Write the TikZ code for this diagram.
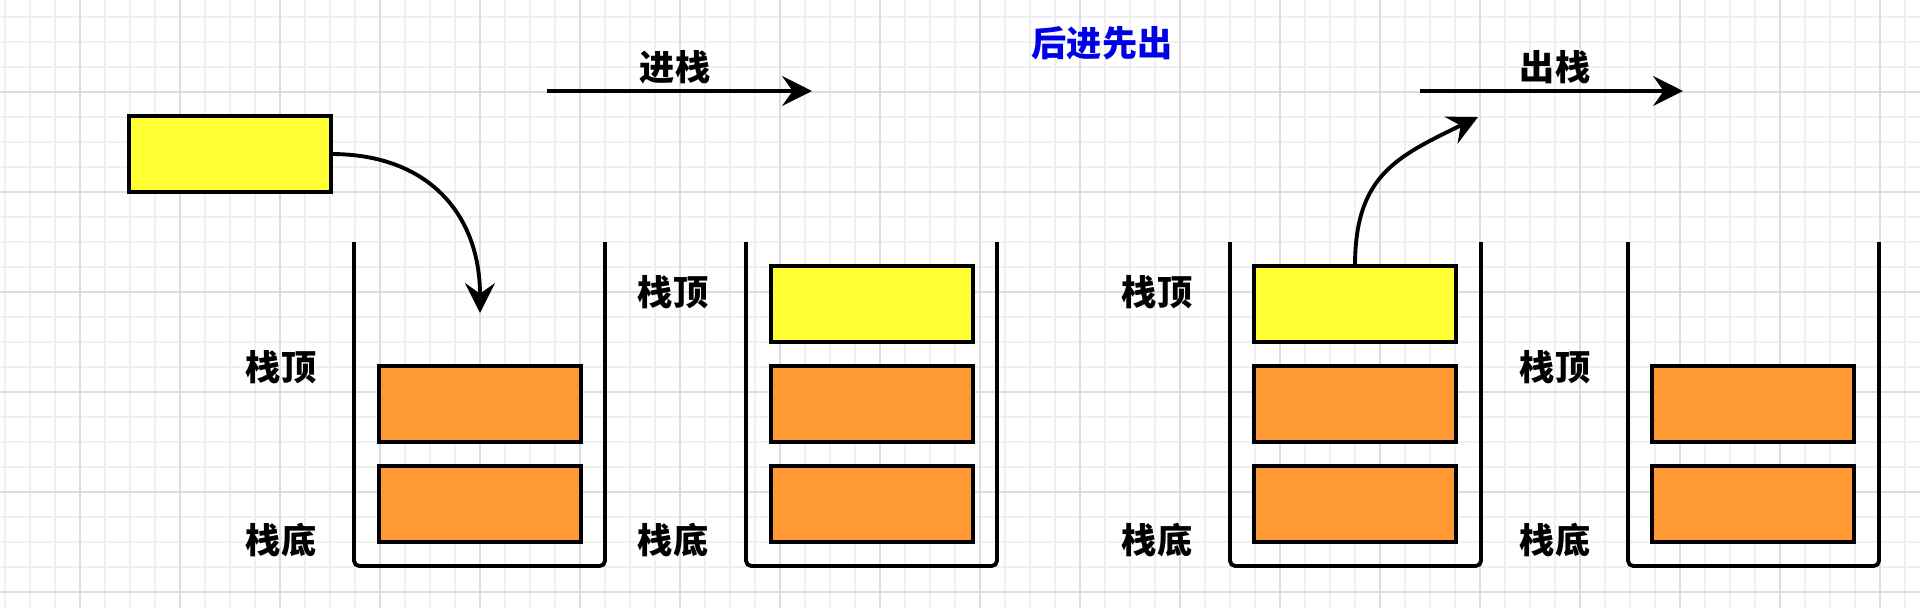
\documentclass[tikz,border=0pt]{standalone}
\usepackage{fontspec}
\usepackage{xcolor}
\usepackage{tikz}
\usetikzlibrary{arrows.meta, positioning}

\newfontfamily\cjk{Noto Sans CJK SC}
\definecolor{boxyellow}{HTML}{FFFF33}
\definecolor{boxorange}{HTML}{FF9933}
\definecolor{titleblue}{HTML}{0000E6}
\definecolor{gridminor}{HTML}{F0F0F0}
\definecolor{gridmajor}{HTML}{DDDDDD}

\begin{document}
\begin{tikzpicture}[x=0.01cm, y=-0.01cm, line width=1.1pt,
  >={Stealth[length=8.5pt, width=8.5pt, inset=3pt]},
  item/.style={draw=black, minimum width=2.02cm, minimum height=0.76cm, inner sep=0pt, outer sep=0pt},
  wall/.style={draw=black, rounded corners=1.5pt},
  lbl/.style={font=\cjk\bfseries\fontsize{10pt}{12pt}\selectfont, inner sep=0pt}]
\useasboundingbox (0,0) rectangle (1920,608);
\fill[white] (0,0) rectangle (1920,608);

% Grid
\foreach \gx in {5,30,...,1905} \draw[gridminor, line width=0.4pt] (\gx,0) -- (\gx,608);
\foreach \gy in {17,42,...,592} \draw[gridminor, line width=0.4pt] (0,\gy) -- (1920,\gy);
\foreach \gx in {80,180,...,1880} \draw[gridmajor, line width=0.4pt] (\gx,0) -- (\gx,608);
\foreach \gy in {92,192,...,592} \draw[gridmajor, line width=0.4pt] (0,\gy) -- (1920,\gy);

% Stacks
\foreach \cx/\ty/\nm in {354/367/a, 746/292/b, 1230/292/c, 1628/367/d} {
    \draw[wall] (\cx,242) -- (\cx,566) -- ({\cx+251},566) -- ({\cx+251},242);
    \node[lbl] (top\nm) at ({\cx-73},\ty) {栈顶};
    \node[lbl] (bot\nm) at ({\cx-73},540) {栈底};
}

\node[lbl, text=titleblue] (title) at (1102,43) {后进先出};

% Push
\node[item, fill=boxyellow] (pushin) at (230,154) {};
\node[item, fill=boxorange] (s1bot) at (480,504) {};
\node[item, fill=boxorange, above=0.24cm of s1bot] (s1mid) {};
\coordinate (pushend) at (480,313);
\draw[->] (pushin.east) to[out=0, in=90, looseness=1.15] (pushend);

\node[item, fill=boxorange] (s2bot) at (872,504) {};
\node[item, fill=boxorange, above=0.24cm of s2bot] (s2mid) {};
\node[item, fill=boxyellow, above=0.24cm of s2mid] (s2top) {};

\coordinate (pushfrom) at (547,91);
\coordinate (pushto) at (812,91);
\draw[->] (pushfrom) -- (pushto);
\node[lbl] (pushlbl) at (675,67) {进栈};

% Pop
\node[item, fill=boxorange] (s3bot) at (1355,504) {};
\node[item, fill=boxorange, above=0.24cm of s3bot] (s3mid) {};
\node[item, fill=boxyellow, above=0.24cm of s3mid] (s3top) {};
\coordinate (popend) at (1478,117);
\draw[->] (s3top.north) to[out=90, in=206, looseness=1.2] (popend);

\node[item, fill=boxorange] (s4bot) at (1753,504) {};
\node[item, fill=boxorange, above=0.24cm of s4bot] (s4mid) {};

\coordinate (popfrom) at (1420,91);
\coordinate (popto) at (1683,91);
\draw[->] (popfrom) -- (popto);
\node[lbl] (poplbl) at (1555,67) {出栈};
\end{tikzpicture}
\end{document}
